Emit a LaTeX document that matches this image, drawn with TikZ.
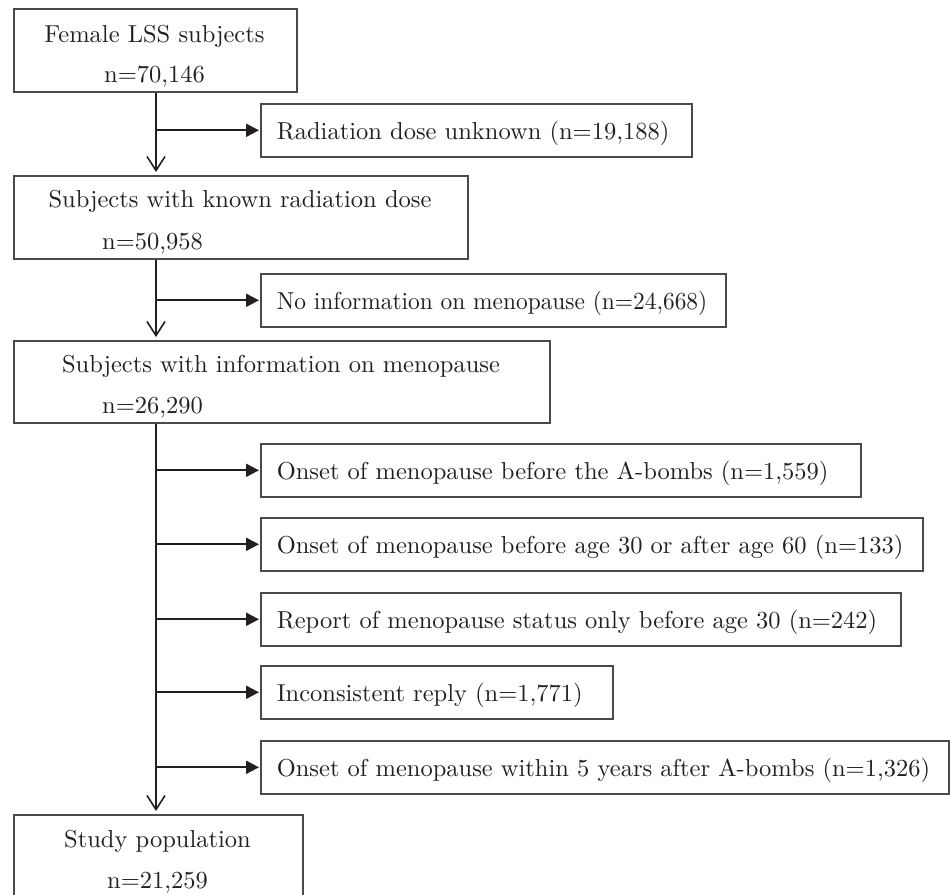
\documentclass[tikz,border=0pt]{standalone}
\usepackage{fontspec}
\setmainfont{lmroman10-regular}[Extension=.otf]
\usetikzlibrary{arrows.meta}
\definecolor{boxgray}{HTML}{4A4A4A}
\definecolor{ink}{HTML}{231F20}
\begin{document}
\begin{tikzpicture}[x=1pt,y=-1pt,
  font=\fontsize{24.5}{29}\selectfont,
  text=ink,
  bigbox/.style={draw=boxgray, line width=1.6pt, inner sep=0pt, anchor=north west},
  ebox/.style={draw=boxgray, line width=1.6pt, anchor=north west, minimum height=53pt,
               inner xsep=16pt, inner ysep=0pt, text height=19pt, text depth=0pt},
  lbl/.style={inner sep=0pt, anchor=base},
  lblw/.style={inner sep=0pt, anchor=base west},
  vline/.style={draw=ink, line width=2pt, shorten >=3pt,
                -{Straight Barb[length=14pt,width=18pt,line width=1.6pt]}},
  hline/.style={draw=ink, line width=2pt, shorten >=1pt,
                -{Triangle[length=13pt,width=13pt]}}]
\useasboundingbox (0,0) rectangle (950,894);
\clip (0,0) rectangle (950,894);

\coordinate (sp) at (156,0);

% main boxes
\node[bigbox, minimum width=283pt, minimum height=83pt] (b1) at (13,8) {};
\node[lbl] (t1a) at (154.5,42) {Female LSS subjects};
\node[lbl] (t1b) at (154.5,82) {n=70,146};

\node[bigbox, minimum width=454pt, minimum height=83pt] (b2) at (13,175) {};
\node[lbl] (t2a) at (240,207) {Subjects with known radiation dose};
\node[lblw] (t2b) at (102,249) {n=50,958};

\node[bigbox, minimum width=536pt, minimum height=82pt] (b3) at (13,340) {};
\node[lbl] (t3a) at (281,372) {Subjects with information on menopause};
\node[lblw] (t3b) at (102,413) {n=26,290};

\node[bigbox, minimum width=289pt, minimum height=110pt] (b4) at (13,814) {};
\node[lbl] (t4a) at (157.5,847) {Study population};
\node[lbl] (t4b) at (157.5,888) {n=21,259};

% exclusion boxes
\node[ebox] (r1) at (260,103) {\makebox[399pt][l]{Radiation dose unknown (n=19,188)}};
\node[ebox] (r2) at (260,273) {\makebox[433pt][l]{\scalebox{0.955}[1]{No information on menopause (n=24,668)}}};
\node[ebox] (e1) at (260,443) {\makebox[568pt][l]{Onset of menopause before the A-bombs (n=1,559)}};
\node[ebox] (e2) at (260,517) {\makebox[630pt][l]{Onset of menopause before age 30 or after age 60 (n=133)}};
\node[ebox] (e3) at (260,592) {\makebox[608pt][l]{Report of menopause status only before age 30 (n=242)}};
\node[ebox] (e4) at (260,665) {\makebox[320pt][l]{Inconsistent reply (n=1,771)}};
\node[ebox] (e5) at (260,740) {\makebox[656pt][l]{Onset of menopause within 5 years after A-bombs (n=1,326)}};

% connectors
\draw[vline] (b1.south -| sp) -- (b2.north -| sp);
\draw[hline] (r1.west -| sp) -- (r1.west);
\draw[vline] (b2.south -| sp) -- (b3.north -| sp);
\draw[hline] (r2.west -| sp) -- (r2.west);
\draw[vline] (b3.south -| sp) -- (b4.north -| sp);
\draw[hline] (e1.west -| sp) -- (e1.west);
\draw[hline] (e2.west -| sp) -- (e2.west);
\draw[hline] (e3.west -| sp) -- (e3.west);
\draw[hline] (e4.west -| sp) -- (e4.west);
\draw[hline] (e5.west -| sp) -- (e5.west);
\end{tikzpicture}
\end{document}
